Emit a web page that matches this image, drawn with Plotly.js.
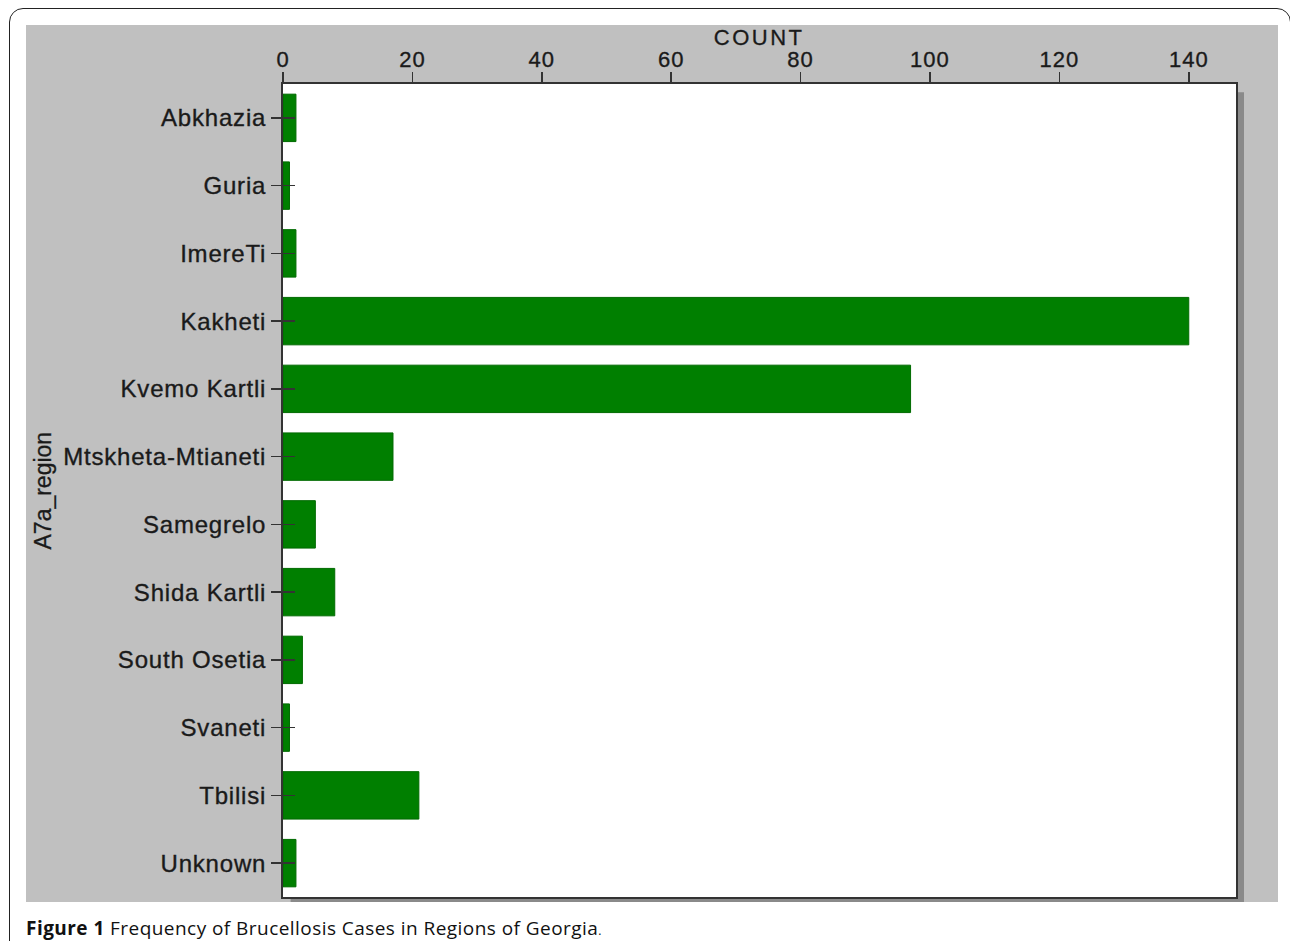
<!DOCTYPE html>
<html>
<head>
<meta charset="utf-8">
<script src="https://cdn.plot.ly/plotly-3.0.1.min.js"></script>
<style>
  html, body { margin:0; padding:0; background:#fff; width:1290px; height:941px; overflow:hidden; }
  #frame { position:absolute; left:9px; top:8px; width:1282px; height:980px; border:1px solid #222; border-radius:14px; box-sizing:border-box; }
  #chart { position:absolute; left:26px; top:25px; width:1252px; height:877px; }
  #caption { position:absolute; left:26px; top:915px; font-family:"Open Sans","Noto Sans",sans-serif; font-size:19px; letter-spacing:0.45px; color:#111; white-space:nowrap; }
  #caption b { font-weight:700; }
  #chart .ytick text { letter-spacing:0.8px; stroke:#1a1a1a; stroke-width:0.35px; }
  #chart .xtick text { letter-spacing:1px; stroke:#1a1a1a; stroke-width:0.35px; }
  #chart .annotation-text { stroke:#1a1a1a; stroke-width:0.3px; }
  #chart .count-title .annotation-text { letter-spacing:2.5px; }
</style>
</head>
<body>
<div id="frame"></div>
<div id="chart"></div>
<div id="caption"><b>Figure 1</b> Frequency of Brucellosis Cases in Regions of Georgia<span style="font-size:12px">.</span></div>
<script>
const regions = ["Abkhazia","Guria","ImereTi","Kakheti","Kvemo Kartli","Mtskheta-Mtianeti","Samegrelo","Shida Kartli","South Osetia","Svaneti","Tbilisi","Unknown"];
const counts  = [2, 1, 2, 140, 97, 17, 5, 8, 3, 1, 21, 2];
const xTicks  = [0, 20, 40, 60, 80, 100, 120, 140];
const xTitle  = "COUNT";
const yTitle  = "A7a_region";

const fontFam = "Liberation Sans, Arial, sans-serif";
const txt = "#1a1a1a";

const traces = [
  {
    type: "bar", orientation: "h",
    x: counts, y: regions,
    marker: { color: "#007f00", line: { color: "#006a00", width: 1 } },
    hoverinfo: "x+y"
  },
  {
    type: "bar", orientation: "h",
    x: counts, y: regions, yaxis: "y2",
    marker: { color: "rgba(0,0,0,0)" },
    hoverinfo: "skip", showlegend: false
  }
];

const layout = {
  width: 1252, height: 877,
  paper_bgcolor: "#c0c0c0",
  plot_bgcolor: "#ffffff",
  margin: { l: 257, r: 42, t: 59, b: 5 },
  showlegend: false,
  bargap: 0.3,
  font: { family: fontFam, color: txt, size: 21 },
  xaxis: {
    side: "top",
    range: [0, 147.3],
    tickvals: xTicks,
    ticktext: xTicks.map(String),
    ticks: "outside", ticklen: 10, tickwidth: 1.5, tickcolor: "#333",
    ticklabelstandoff: -4,
    showgrid: false, zeroline: false,
    showline: true, linecolor: "#333", linewidth: 2, mirror: true,
    tickfont: { size: 22, family: fontFam, color: txt }
  },
  yaxis: {
    type: "category",
    categoryorder: "array", categoryarray: regions,
    autorange: "reversed",
    ticks: "outside", ticklen: 10, tickwidth: 1.5, tickcolor: "#333",
    showgrid: false, zeroline: false,
    showline: true, linecolor: "#333", linewidth: 2, mirror: true,
    tickfont: { size: 24, family: fontFam, color: txt }
  },
  yaxis2: {
    type: "category",
    overlaying: "y",
    matches: "y",
    categoryorder: "array", categoryarray: regions,
    ticks: "inside", ticklen: 12, tickwidth: 1.5, tickcolor: "#333",
    showticklabels: false, showgrid: false, zeroline: false, showline: false
  },
  annotations: [
    { text: xTitle, xref: "paper", yref: "paper", x: 0.4995, y: 1 + 46.5 / 813, xanchor: "center", yanchor: "middle",
      showarrow: false, font: { size: 22, family: fontFam, color: txt } },
    { text: yTitle, xref: "paper", yref: "paper", x: -(283 - 42) / 953, y: 0.5, xanchor: "center", yanchor: "middle",
      textangle: -90, showarrow: false, font: { size: 23, family: fontFam, color: txt } }
  ],
  shapes: [
    { type: "rect", xref: "paper", yref: "paper", xsizemode: "pixel", xanchor: 1, x0: 1, x1: 8, y0: -0.007, y1: 0.99, fillcolor: "#8a8a8a", line: { width: 0 }, layer: "below" },
    { type: "rect", xref: "paper", yref: "paper", ysizemode: "pixel", yanchor: 0, y0: -1, y1: -6, x0: 0.008, x1: 1.007, fillcolor: "#8a8a8a", line: { width: 0 }, layer: "below" }
  ]
};

Plotly.newPlot("chart", traces, layout, { staticPlot: true, displayModeBar: false }).then(function (gd) {
  const anns = gd.querySelectorAll(".annotation");
  if (anns.length) anns[0].classList.add("count-title");
});
</script>
</body>
</html>
